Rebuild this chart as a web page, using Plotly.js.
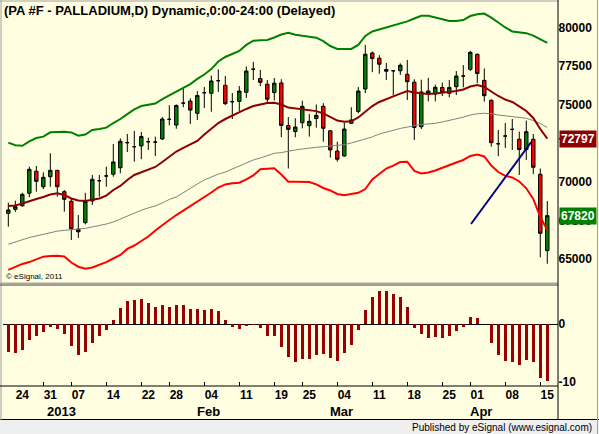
<!DOCTYPE html>
<html><head><meta charset="utf-8">
<script src="https://cdn.plot.ly/plotly-3.0.1.min.js"></script>
<style>html,body{margin:0;padding:0;background:#fffee0;overflow:hidden}#chart{width:599px;height:434px}</style>
</head><body><div id="chart"></div>
<script>
const dates = ['2012-12-20','2012-12-21','2012-12-24','2012-12-26','2012-12-27','2012-12-28','2012-12-31',
'2013-01-02','2013-01-03','2013-01-04','2013-01-07','2013-01-08','2013-01-09','2013-01-10','2013-01-11',
'2013-01-14','2013-01-15','2013-01-16','2013-01-17','2013-01-18','2013-01-22','2013-01-23','2013-01-24','2013-01-25',
'2013-01-28','2013-01-29','2013-01-30','2013-01-31','2013-02-01','2013-02-04','2013-02-05','2013-02-06','2013-02-07','2013-02-08',
'2013-02-11','2013-02-12','2013-02-13','2013-02-14','2013-02-15','2013-02-19','2013-02-20','2013-02-21','2013-02-22',
'2013-02-25','2013-02-26','2013-02-27','2013-02-28','2013-03-01','2013-03-04','2013-03-05','2013-03-06','2013-03-07','2013-03-08',
'2013-03-11','2013-03-12','2013-03-13','2013-03-14','2013-03-15','2013-03-18','2013-03-19','2013-03-20','2013-03-21','2013-03-22',
'2013-03-25','2013-03-26','2013-03-27','2013-03-28','2013-04-01','2013-04-02','2013-04-03','2013-04-04','2013-04-05',
'2013-04-08','2013-04-09','2013-04-10','2013-04-11','2013-04-12','2013-04-15'];

const open = [67970,68230,68460,69270,70690,69690,70340,70750,69370,68750,
66940,67370,68770,70080,70390,70500,70920,72540,72280,72330,
72600,72580,72780,74050,73680,75100,75230,74440,75770,75730,
76550,76250,75190,75210,75800,77290,76690,76320,75780,76400,
73650,73260,73830,73640,74100,74890,73310,72000,71680,73790,
74560,76010,78340,78000,77270,77190,77190,76960,76450,73570,
75880,75690,76110,75730,76160,76850,77280,78250,76570,75280,
72470,72970,73400,72760,72100,72760,70500,65560];
const high = [68660,68790,69300,70990,71030,70620,71850,70780,69480,68920,
67860,69290,70450,70450,70990,72450,72820,73100,73300,73230,
72860,72930,74200,74960,75020,76060,75410,75880,76140,76880,
77280,76850,75750,76200,77470,77760,77240,76590,76720,76640,
74200,74120,75250,74390,75010,75090,73330,72600,73830,74830,
76140,78860,78440,78200,77690,77210,77670,77890,76640,76610,
76730,76290,76430,76590,77170,77560,78480,78320,77340,75340,
73360,73810,74070,73260,73970,73100,70870,68770];
const low = [67110,68060,68400,69010,69370,69540,69690,69050,68080,66250,
66380,67260,68510,69050,69690,70340,70560,71940,71310,71470,
72070,71680,72710,73660,73440,74830,73750,74010,74780,74540,
75820,74980,74070,74590,75430,76590,76190,75040,75270,72890,
70870,72890,73470,72930,73510,72600,71570,71310,71630,73780,
74440,75750,77100,77000,76590,75590,76920,75300,72710,73420,
75210,75210,75560,75470,75620,76120,77170,76380,75190,72280,
71660,72200,72070,70450,71420,70510,65130,64710];
const close = [68190,68400,69200,70820,70040,70300,70750,69690,68880,66980,
66780,68750,70170,70080,70390,71290,72630,72540,72280,72940,
72600,72580,74070,74050,74940,75100,74650,75590,75770,76530,
76550,75060,75190,75880,77170,77290,76440,75350,76390,73650,
73400,73550,74890,73920,74310,73470,72070,71470,73420,74010,
75880,78260,77980,77610,77160,77190,77550,76480,73520,75820,
75730,76120,75800,76110,76850,76850,78380,77010,75580,72540,
72470,72970,73400,72100,73250,70950,66680,67820];

const upperBand = [72540,72370,72340,72620,72840,72930,73210,73250,73250,73200,
72990,73070,73360,73420,73510,73810,74070,74390,74690,74910,
75010,75070,75360,75590,75850,76080,76330,76660,76950,77300,
77790,78080,78270,78470,78860,79130,79160,79180,79340,79530,
79650,79520,79450,79390,79330,79110,78790,78600,78600,78600,
78860,79440,79730,79860,79990,80130,80210,80380,80570,80750,
80750,80620,80490,80410,80410,80470,80730,80850,80890,80630,
80310,79990,79730,79660,79620,79460,79240,79000];
const midLine = [68450,68480,68610,68770,68900,69030,69190,69270,69160,68930,
68800,68770,68870,68930,69120,69480,69740,70130,70450,70610,
70770,70970,71290,71610,71970,72200,72420,72650,73070,73460,
73810,74070,74300,74480,74720,74910,75010,75110,75120,75010,
74810,74750,74720,74650,74580,74430,74200,73970,73900,73920,
74170,74560,74910,75170,75330,75530,75710,75880,75780,75720,
75690,75720,75760,75820,75880,75980,76170,76270,76140,75850,
75560,75330,75170,74890,74590,74140,73420,72797];
const slowLine = [65970,66120,66280,66410,66510,66620,66720,66820,66870,66930,
66960,67000,67090,67150,67280,67410,67600,67830,68030,68170,
68320,68450,68640,68870,69030,69290,69580,69870,70130,70320,
70510,70640,70840,71030,71210,71420,71550,71710,71850,71900,
72010,72070,72130,72200,72240,72280,72330,72360,72410,72520,
72650,72780,72910,73100,73230,73330,73460,73550,73630,73720,
73750,73790,73880,73970,74100,74190,74330,74410,74440,74410,
74330,74280,74230,74200,74120,73970,73780,73520];
const lowerBand = [64310,64500,64700,64820,64970,65170,65210,65230,65180,64790,
64520,64390,64470,64630,64820,65050,65280,65670,65890,66180,
66470,66860,67220,67540,67860,68150,68450,68740,69000,69320,
69640,69840,69910,69950,70160,70420,70820,70870,70880,70480,
70020,70020,70020,70000,69840,69610,69450,69220,69140,69220,
69300,69540,70160,70510,70870,71060,71290,71310,70710,70550,
70610,70740,70930,71100,71260,71420,71680,71780,71650,71060,
70640,70390,70290,70030,69590,68900,67730,66890];
const hist = [-4.72,-4.9,-4.43,-2.7,-2.0,-1.27,-0.4,-0.8,-1.67,-3.68,
-5.3,-4.72,-3.17,-2.0,-0.98,0.74,2.76,4.02,4.19,4.36,
3.62,2.98,3.33,2.98,3.33,3.33,2.64,2.64,2.47,2.64,
2.29,0.74,-0.41,-0.81,-0.24,-0.05,-0.59,-2.02,-2.02,-3.86,
-5.59,-6.45,-5.98,-5.98,-5.29,-5.12,-5.75,-6.27,-4.89,-3.57,
-0.98,2.47,4.76,5.74,5.74,5.22,4.76,3.03,-0.59,-1.67,
-2.31,-2.14,-2.31,-1.97,-1.1,-0.41,1.31,1.03,0.05,-3.17,
-5.29,-6.27,-6.45,-7.02,-6.16,-6.45,-9.21,-9.72];

const trendX = [66.1, 74.7];
const trendY = [67280, 72580];

const tickDates = ['2012-12-24','2012-12-31','2013-01-07','2013-01-14','2013-01-22','2013-01-28','2013-02-04',
'2013-02-11','2013-02-19','2013-02-25','2013-03-04','2013-03-11','2013-03-18','2013-03-25','2013-04-01','2013-04-08','2013-04-15'];
const monthLabels = ['2013','Feb','Mar','Apr'];
const monthStarts = ['2013-01-02','2013-02-01','2013-03-01','2013-04-01'];
const priceTicks = [65000,67500,70000,72500,75000,77500,80000];
const oscTicks = [0,-10];
const titleText = '(PA #F - PALLADIUM,D) Dynamic,0:00-24:00 (Delayed)';

const W=599,H=434;
const px = x => x/W, py = y => 1 - y/H;
const xi = dates.map((d,i)=>i);
const FONT = '"Liberation Sans", Arial, sans-serif';

function pick(cond){
  const o={x:[],open:[],high:[],low:[],close:[]};
  xi.forEach(i=>{ if(cond(open[i],close[i])){o.x.push(i);o.open.push(open[i]);o.high.push(high[i]);o.low.push(low[i]);o.close.push(close[i]);}});
  return o;
}
function candle(d, fill){
  const st={line:{color:'#000',width:1},fillcolor:fill};
  return Object.assign({type:'candlestick',xaxis:'x',yaxis:'y',increasing:st,decreasing:st,hoverinfo:'skip',showlegend:false},d);
}
function line(y,color,w){return {type:'scatter',mode:'lines',x:xi,y:y,xaxis:'x',yaxis:'y',line:{color:color,width:w},hoverinfo:'skip'};}

const traces = [
  line(slowLine,'#808080',1),
  line(upperBand,'#008000',2),
  line(lowerBand,'#ff0000',2),
  line(midLine,'#8b0000',2),
  {type:'scatter',mode:'lines',x:trendX,y:trendY,xaxis:'x',yaxis:'y',line:{color:'#000080',width:2},hoverinfo:'skip'},
  candle(pick((o,c)=>c>o),'#008000'),
  candle(pick((o,c)=>c<o),'#ff0000'),
  candle(pick((o,c)=>c===o),'#000000'),
  {type:'bar',x:xi,y:hist,xaxis:'x',yaxis:'y2',width:0.4,marker:{color:'#990000',line:{width:0}},hoverinfo:'skip'}
];

const tickvals = tickDates.map(d=>dates.indexOf(d));
const ticktext = tickDates.map(d=>d.slice(8));
const minorVals = tickvals.slice(1).map(v=>v-1);

const ann = [
  {text:titleText,xref:'paper',yref:'paper',x:px(2),y:py(10),xanchor:'left',yanchor:'middle',showarrow:false,font:{family:FONT,size:13,color:'#000',weight:'bold'}},
  {text:'© eSignal, 2011',xref:'paper',yref:'paper',x:px(4),y:py(276),xanchor:'left',yanchor:'middle',showarrow:false,font:{family:FONT,size:8,color:'#000'}},
  {text:'Published by eSignal (www.esignal.com)',xref:'paper',yref:'paper',x:px(594),y:py(427),xanchor:'right',yanchor:'middle',showarrow:false,font:{family:FONT,size:10,color:'#000'}},
  {text:String(midLine[midLine.length-1]),xref:'paper',yref:'y',x:px(559),y:midLine[midLine.length-1],xanchor:'left',yanchor:'middle',showarrow:false,bgcolor:'#8b0000',borderpad:1,font:{family:FONT,size:12,color:'#fff',weight:'bold'}},
  {text:String(close[close.length-1]),xref:'paper',yref:'y',x:px(559),y:close[close.length-1],xanchor:'left',yanchor:'middle',showarrow:false,bgcolor:'#008000',borderpad:1,font:{family:FONT,size:12,color:'#fff',weight:'bold'}}
];
monthLabels.forEach((m,k)=>{
  ann.push({text:m,xref:'x',yref:'paper',x:dates.indexOf(monthStarts[k])+0.6,y:py(411),xanchor:'center',yanchor:'middle',showarrow:false,font:{family:FONT,size:13,color:'#000',weight:'bold'}});
});

function hl(y,x0,x1,color,w){return {type:'line',xref:'paper',yref:'paper',x0:px(x0),x1:px(x1),y0:py(y),y1:py(y),line:{color:color,width:w}};}
function vl(x,y0,y1,color,w){return {type:'line',xref:'paper',yref:'paper',x0:px(x),x1:px(x),y0:py(y0),y1:py(y1),line:{color:color,width:w}};}
const shapes = [
  {type:'rect',xref:'paper',yref:'paper',x0:0,x1:1,y0:0,y1:py(420),fillcolor:'#efefef',line:{width:0},layer:'below'},
  hl(419.5,0,599,'#000',1),
  hl(1,0,558,'#a0a0a0',1),
  vl(1,0,420,'#a0a0a0',1),
  hl(283.3,0,558,'#a8a8a8',1.5),
  hl(285,0,558,'#404040',1),
  hl(386,0,558,'#000',1),
  vl(558,0,420,'#000',1),
  vl(597.5,0,434,'#a0a0a0',1)
];

const layout = {
  width:W,height:H,margin:{l:0,r:0,t:0,b:0},
  paper_bgcolor:'#fffee0',plot_bgcolor:'#fffee0',showlegend:false,
  font:{family:FONT,color:'#000'},
  xaxis:{domain:[px(3),px(557.5)],range:[-0.76,78.46],anchor:'y2',showgrid:false,zeroline:false,showline:false,
    tickmode:'array',tickvals:tickvals,ticktext:ticktext,ticks:'',
    tickfont:{family:FONT,size:12,color:'#000',weight:'bold'},
    minor:{tickmode:'array',tickvals:minorVals,ticks:'inside',ticklen:4,tickcolor:'#000',tickwidth:1,showgrid:false},
    rangeslider:{visible:false},fixedrange:true},
  yaxis:{domain:[py(283),py(2)],range:[63466,81636],side:'right',anchor:'x',showgrid:false,zeroline:false,showline:false,
    tickmode:'array',tickvals:priceTicks,ticktext:priceTicks.map(String),ticks:'',tickfont:{family:FONT,size:12,color:'#000',weight:'bold'},fixedrange:true},
  yaxis2:{domain:[py(386),py(286)],range:[-10.64,6.6],side:'right',anchor:'x',showgrid:false,zeroline:true,zerolinecolor:'#000',zerolinewidth:1,showline:false,
    tickmode:'array',tickvals:oscTicks,ticktext:oscTicks.map(String),ticks:'',tickfont:{family:FONT,size:12,color:'#000',weight:'bold'},fixedrange:true},
  annotations:ann,shapes:shapes,bargap:0
};
Plotly.newPlot('chart',traces,layout,{staticPlot:true,displayModeBar:false});
</script></body></html>
